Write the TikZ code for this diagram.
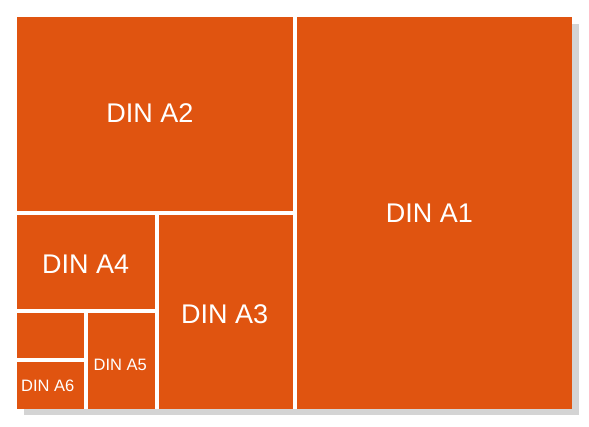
\documentclass[tikz,border=0pt]{standalone}
\usepackage{fontspec}
\setmainfont{Liberation Sans}
\definecolor{dinorange}{RGB}{224,84,16}
\definecolor{shadowgray}{RGB}{212,212,212}
\tikzset{
  sheet/.style={fill=dinorange, draw=none},
  biglabel/.style={text=white, font=\fontsize{27}{30}\selectfont, inner sep=0pt},
  smalllabel/.style={text=white, font=\fontsize{16.5}{19}\selectfont, inner sep=0pt}
}
\begin{document}
\begin{tikzpicture}[x=1pt, y=-1pt]
\useasboundingbox (0,0) rectangle (589,426);
% shadow
\fill[shadowgray] (24,24) rectangle (579,415);
\fill[white] (17,17) rectangle (572,409);
% sheets
\fill[sheet] (297,17) rectangle (572,409);   % A1
\fill[sheet] (17,17) rectangle (293,211);    % A2
\fill[sheet] (159,215) rectangle (293,409);  % A3
\fill[sheet] (17,215) rectangle (155,309);   % A4
\fill[sheet] (88,313) rectangle (155,409);   % A5
\fill[sheet] (17,362) rectangle (84,409);    % A6
\fill[sheet] (17,313) rectangle (84,358);    % blank area
% labels
\node[biglabel] (a1) at (429.5,213) {DIN A1};
\node[biglabel] (a2) at (150,113) {DIN A2};
\node[biglabel] (a3) at (224.7,313.7) {DIN A3};
\node[biglabel] (a4) at (85.7,264) {DIN A4};
\node[smalllabel] (a5) at (120.3,364.7) {DIN A5};
\node[smalllabel] (a6) at (47.7,386) {DIN A6};
\end{tikzpicture}
\end{document}
